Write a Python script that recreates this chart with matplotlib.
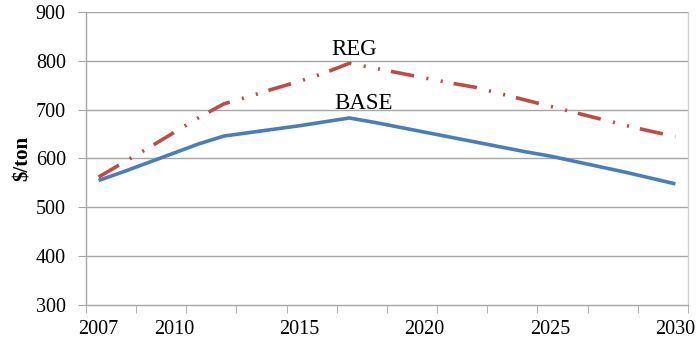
import matplotlib
matplotlib.use("Agg")
import matplotlib.pyplot as plt

years = list(range(2007, 2031))
base = [555, 573, 592, 611, 630, 646, 653, 660, 667, 675, 683, 674, 664, 654,
        644, 634, 624, 614, 605, 594, 583, 572, 560, 548]
reg = [562, 592, 622, 653, 684, 712, 727, 743, 758, 775, 795, 785, 775, 765,
       755, 746, 733, 720, 707, 694, 681, 668, 656, 645]
year_labels = [2007, 2010, 2015, 2020, 2025, 2030]
y_ticks = [300, 400, 500, 600, 700, 800, 900]

plt.rcParams['font.family'] = ['Liberation Serif', 'DejaVu Serif']
plt.rcParams['lines.scale_dashes'] = False

fig = plt.figure(figsize=(6.97, 3.39), dpi=100)
ax = fig.add_axes([0.1234, 0.1003, 0.8636, 0.8643])

grid_c = '#a6a6a6'
for v in y_ticks[1:]:
    ax.axhline(v, color=grid_c, lw=1.0, zorder=1)

ax.plot(years, base, color='#4a7ebb', lw=2.6, solid_capstyle='butt', zorder=3)
ax.plot(years, reg, color='#be4b48', lw=2.6, zorder=3,
        dashes=[17, 9, 1.5, 9, 1.5, 8])

ax.text(2017.2, 812, 'REG', fontsize=16.5, ha='center', va='baseline')
ax.text(2017.55, 701, 'BASE', fontsize=16.5, ha='center', va='baseline')

ax.set_xlim(2006.5, 2030.5)
ax.set_ylim(300, 900)
ax.set_yticks(y_ticks)
ax.set_xticks(year_labels)
ax.set_xticks([2006.5 + 2 * i for i in range(13)], minor=True)
ax.tick_params(axis='x', which='major', length=0, labelsize=14.5, pad=10.5)
ax.tick_params(axis='x', which='minor', length=6, color=grid_c, direction='out')
ax.tick_params(axis='y', length=6, color=grid_c, labelsize=14.5, pad=8.5)

ax.spines['top'].set_visible(False)
for s in ['left', 'bottom', 'right']:
    ax.spines[s].set_color(grid_c)
    ax.spines[s].set_linewidth(1.0)
ax.spines['right'].set_color('#d0d0d0')

ax.set_ylabel('$/ton', fontsize=15, fontweight='bold', labelpad=2)

fig.savefig('out.png', dpi=100)
